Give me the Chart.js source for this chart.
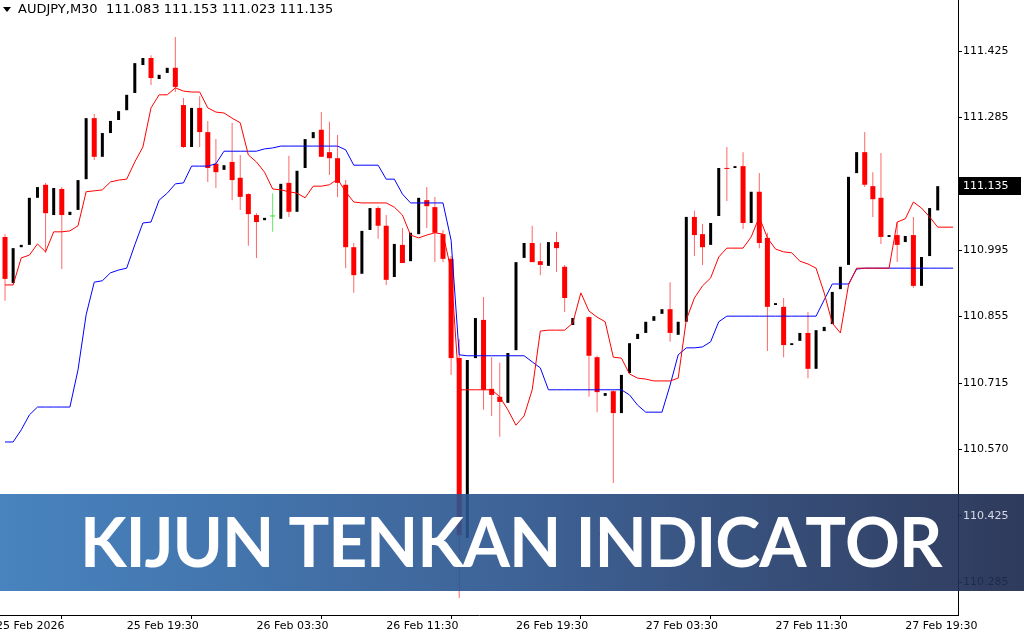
<!DOCTYPE html>
<html>
<head>
<meta charset="utf-8">
<script src="https://cdn.jsdelivr.net/npm/chart.js@4.4.1/dist/chart.umd.min.js"></script>
<style>
  html, body { margin: 0; padding: 0; background: #fff; }
  #wrap { width: 1024px; height: 640px; position: relative; overflow: hidden; }
</style>
</head>
<body>
<div id="wrap"><canvas id="chart-main" width="1024" height="640"></canvas></div>
<script>
// AUDJPY M30 with Tenkan (red) / Kijun (blue)
const symbol = 'AUDJPY,M30';
const lastQuote = ['111.083', '111.153', '111.023', '111.135'];
const lastPrice = 111.135;
const bannerTitle = 'KIJUN TENKAN INDICATOR';

// bar index each time label belongs to
const timeLabelBars = [-1.1, 15, 31, 47, 63, 79, 95, 111];
const timeLabels = ['25 Feb 2026', '25 Feb 19:30', '26 Feb 03:30', '26 Feb 11:30',
    '26 Feb 19:30', '27 Feb 03:30', '27 Feb 11:30', '27 Feb 19:30'];

const priceTicks = [111.425, 111.2825, 111.14, 110.9975, 110.855, 110.7125, 110.57, 110.4275, 110.285];
const priceTickLabels = ['111.425', '111.285', '111.140', '110.995', '110.855', '110.715', '110.570', '110.425', '110.285'];

// index 71 has no visible candle
const opens = [
    111.026, 110.927, 111.004, 111.009, 111.110, 111.138, 111.073, 111.129, 111.073, 111.084,
    111.150, 111.281, 111.198, 111.249, 111.277, 111.298, 111.335, 111.395, 111.410, 111.365,
    111.378, 111.389, 111.309, 111.219, 111.303, 111.251, 111.183, 111.170, 111.187, 111.153,
    111.118, 111.073, 111.062, 111.070, 111.065, 111.142, 111.080, 111.174, 111.238, 111.256,
    111.208, 111.195, 111.138, 111.004, 110.947, 111.041, 111.088, 111.050, 110.940, 111.009,
    110.974, 111.032, 111.105, 111.090, 111.032, 110.979, 110.766, 110.380, 110.766, 110.848,
    110.700, 110.683, 110.670, 110.783, 110.981, 111.013, 110.974, 110.964, 111.015, 110.962,
    110.837, null, 110.854, 110.768, 110.685, 110.695, 110.648, 110.734, 110.807, 110.820,
    110.846, 110.861, 110.871, 110.816, 110.844, 111.069, 111.032, 111.009, 111.071, 111.174,
    111.174, 111.178, 111.056, 111.123, 111.024, 110.880, 110.876, 110.794, 110.803, 110.820,
    110.743, 110.824, 110.839, 110.914, 110.966, 111.163, 111.208, 111.135, 111.110, 111.026,
    111.030, 111.015, 111.030, 110.921, 110.985, 111.083
];
const highs = [
    111.032, 111.002, 111.009, 111.110, 111.133, 111.142, 111.131, 111.133, 111.080, 111.148,
    111.281, 111.290, 111.249, 111.275, 111.296, 111.331, 111.399, 111.410, 111.416, 111.374,
    111.389, 111.455, 111.324, 111.303, 111.328, 111.275, 111.236, 111.180, 111.271, 111.202,
    111.120, 111.077, 111.067, 111.120, 111.140, 111.200, 111.168, 111.236, 111.251, 111.294,
    111.273, 111.245, 111.148, 111.013, 111.039, 111.088, 111.092, 111.073, 111.011, 111.045,
    111.035, 111.110, 111.133, 111.112, 111.041, 110.985, 110.807, 110.762, 110.852, 110.897,
    110.768, 110.756, 110.777, 110.972, 111.013, 111.050, 111.013, 111.015, 111.037, 110.966,
    110.852, null, 110.856, 110.771, 110.691, 110.698, 110.730, 110.798, 110.818, 110.844,
    110.856, 110.871, 110.929, 110.844, 111.069, 111.082, 111.054, 111.056, 111.174, 111.219,
    111.178, 111.208, 111.123, 111.163, 111.035, 110.884, 110.895, 110.798, 110.820, 110.865,
    110.826, 110.833, 110.908, 110.962, 111.155, 111.208, 111.251, 111.165, 111.206, 111.030,
    111.058, 111.028, 111.069, 110.983, 111.088, 111.153
];
const lows = [
    110.889, 110.927, 111.004, 111.009, 111.110, 110.992, 111.073, 110.957, 111.073, 111.084,
    111.150, 111.191, 111.198, 111.249, 111.277, 111.298, 111.335, 111.395, 111.352, 111.365,
    111.378, 111.337, 111.217, 111.219, 111.219, 111.144, 111.131, 111.170, 111.105, 111.084,
    111.007, 110.981, 111.062, 111.037, 111.065, 111.069, 111.080, 111.174, 111.238, 111.198,
    111.159, 111.112, 110.959, 110.906, 110.947, 111.041, 111.022, 110.923, 110.940, 110.970,
    110.974, 111.032, 111.045, 110.972, 110.972, 110.730, 110.251, 110.380, 110.766, 110.655,
    110.642, 110.597, 110.670, 110.783, 110.981, 110.972, 110.944, 110.964, 110.951, 110.865,
    110.837, null, 110.683, 110.650, 110.685, 110.498, 110.648, 110.734, 110.807, 110.820,
    110.846, 110.861, 110.801, 110.816, 110.844, 110.985, 110.966, 111.009, 111.071, 111.103,
    111.174, 111.043, 111.056, 111.002, 110.781, 110.880, 110.768, 110.794, 110.803, 110.723,
    110.743, 110.824, 110.839, 110.914, 110.966, 111.163, 111.133, 111.069, 111.011, 111.026,
    110.972, 111.015, 110.917, 110.921, 110.985, 111.023
];
const closes = [
    110.936, 111.002, 111.009, 111.110, 111.133, 111.077, 111.131, 111.073, 111.080, 111.148,
    111.281, 111.198, 111.249, 111.275, 111.296, 111.331, 111.399, 111.410, 111.367, 111.374,
    111.389, 111.348, 111.219, 111.303, 111.251, 111.174, 111.165, 111.180, 111.148, 111.112,
    111.075, 111.058, 111.067, 111.070, 111.140, 111.080, 111.168, 111.236, 111.251, 111.198,
    111.195, 111.142, 111.004, 110.944, 111.039, 111.088, 111.050, 110.934, 111.011, 110.970,
    111.035, 111.110, 111.092, 111.035, 110.979, 110.766, 110.386, 110.762, 110.852, 110.698,
    110.687, 110.672, 110.777, 110.972, 111.013, 110.972, 110.966, 111.015, 111.002, 110.895,
    110.852, null, 110.771, 110.693, 110.691, 110.648, 110.730, 110.798, 110.818, 110.844,
    110.856, 110.871, 110.820, 110.844, 111.069, 111.030, 111.004, 111.056, 111.174, 111.172,
    111.178, 111.056, 111.123, 111.013, 110.876, 110.884, 110.794, 110.798, 110.820, 110.743,
    110.826, 110.833, 110.908, 110.962, 111.155, 111.208, 111.138, 111.107, 111.026, 111.030,
    111.009, 111.028, 110.921, 110.983, 111.088, 111.135
];

const tenkan = [
    110.923, 110.923, 110.981, 110.987, 111.011, 110.994, 111.037, 111.037, 111.039, 111.050,
    111.123, 111.125, 111.127, 111.144, 111.148, 111.150, 111.187, 111.219, 111.303, 111.331,
    111.331, 111.346, 111.339, 111.337, 111.337, 111.303, 111.294, 111.292, 111.281, 111.271,
    111.202, 111.187, 111.165, 111.129, 111.127, 111.123, 111.120, 111.110, 111.135, 111.135,
    111.138, 111.150, 111.123, 111.101, 111.099, 111.099, 111.099, 111.099, 111.090, 111.073,
    111.030, 111.024, 111.030, 111.035, 111.032, 110.955, 110.698, 110.698, 110.698, 110.698,
    110.698, 110.683, 110.655, 110.622, 110.642, 110.698, 110.824, 110.826, 110.826, 110.826,
    110.841, 110.906, 110.867, 110.854, 110.844, 110.768, 110.766, 110.732, 110.723, 110.721,
    110.717, 110.717, 110.717, 110.723, 110.848, 110.895, 110.921, 110.938, 110.983, 111.002,
    111.002, 111.002, 111.026, 111.069, 111.024, 111.000, 110.994, 110.992, 110.974, 110.968,
    110.959, 110.906, 110.841, 110.820, 110.923, 110.959, 110.959, 110.959, 110.959, 110.959,
    111.058, 111.065, 111.101, 111.088, 111.069, 111.047
];
const kijun = [
    110.586, 110.586, 110.612, 110.644, 110.661, 110.661, 110.661, 110.661, 110.661, 110.741,
    110.859, 110.929, 110.932, 110.949, 110.955, 110.959, 111.009, 111.056, 111.058, 111.105,
    111.120, 111.140, 111.142, 111.178, 111.178, 111.178, 111.183, 111.210, 111.210, 111.210,
    111.210, 111.210, 111.215, 111.217, 111.221, 111.221, 111.221, 111.221, 111.221, 111.221,
    111.221, 111.221, 111.213, 111.180, 111.180, 111.180, 111.180, 111.150, 111.150, 111.118,
    111.099, 111.099, 111.099, 111.099, 111.099, 111.019, 110.773, 110.771, 110.771, 110.771,
    110.771, 110.771, 110.771, 110.771, 110.771, 110.758, 110.745, 110.698, 110.698, 110.698,
    110.698, 110.698, 110.698, 110.698, 110.698, 110.698, 110.698, 110.687, 110.665, 110.650,
    110.650, 110.650, 110.708, 110.773, 110.788, 110.788, 110.790, 110.801, 110.844, 110.856,
    110.856, 110.856, 110.856, 110.856, 110.856, 110.856, 110.856, 110.856, 110.856, 110.856,
    110.856, 110.891, 110.925, 110.925, 110.925, 110.957, 110.959, 110.959, 110.959, 110.959,
    110.959, 110.959, 110.959, 110.959, 110.959, 110.959
];
// indicator lines run a little past the last candle
const lineEndBar = 116.9;

const bars = opens.map((o, i) => ({ i, o, h: highs[i], l: lows[i], c: closes[i] }))
    .filter(b => b.o !== null);
const bear = bars.filter(b => b.c < b.o);
const bull = bars.filter(b => b.c > b.o);
const flat = bars.filter(b => b.c === b.o);

const linePoints = (arr) => {
    const pts = arr.map((v, i) => ({ x: i, y: v }));
    pts.push({ x: lineEndBar, y: arr[arr.length - 1] });
    return pts;
};

const barBase = {
    type: 'bar',
    grouped: false,
    borderWidth: 0,
    inflateAmount: 0,
    minBarLength: 1
};
const lineBase = {
    type: 'line',
    borderWidth: 1,
    pointRadius: 0,
    tension: 0,
    fill: false
};

const datasets = [
    { ...lineBase, label: 'Tenkan', order: 0, borderColor: '#ff0000', data: linePoints(tenkan) },
    { ...lineBase, label: 'Kijun', order: 1, borderColor: '#0000ff', data: linePoints(kijun) },
    { ...barBase, label: 'bear body', order: 3, barThickness: 5, backgroundColor: '#ff0000',
        data: bear.map(b => ({ x: b.i, y: [b.c, b.o] })) },
    { ...barBase, label: 'bull body', order: 3, barThickness: 3, backgroundColor: '#000000',
        data: bull.map(b => ({ x: b.i, y: [b.o, b.c] })) },
    { ...barBase, label: 'doji body', order: 3, barThickness: 5, backgroundColor: '#33dd33',
        data: flat.map(b => ({ x: b.i, y: [b.o, b.c] })) },
    { ...barBase, label: 'bear wick', order: 4, barThickness: 1, backgroundColor: 'rgba(255,0,0,0.6)',
        data: bear.map(b => ({ x: b.i, y: [b.l, b.h] })) },
    { ...barBase, label: 'doji wick', order: 4, barThickness: 1, backgroundColor: 'rgba(0,210,0,0.6)',
        data: flat.map(b => ({ x: b.i, y: [b.l, b.h] })) }
];

const axisFont = { family: 'DejaVu Sans', size: 11 };

const overlay = {
    id: 'overlay',
    afterDraw(chart) {
        const ctx = chart.ctx;
        const yScale = chart.scales.y;
        ctx.save();

        // header
        ctx.fillStyle = '#000';
        ctx.textBaseline = 'middle';
        ctx.font = '13px "DejaVu Sans"';
        ctx.beginPath();
        ctx.moveTo(3, 7);
        ctx.lineTo(11, 7);
        ctx.lineTo(7, 12);
        ctx.closePath();
        ctx.fill();
        ctx.fillText(symbol + '  ' + lastQuote.join(' '), 18, 10);

        // last price marker
        const py = Math.round(yScale.getPixelForValue(lastPrice));
        ctx.fillStyle = '#000';
        ctx.fillRect(959, py - 9, 62, 18);
        ctx.fillStyle = '#fff';
        ctx.font = '11px "DejaVu Sans"';
        ctx.fillText(lastQuote[3], 963, py);

        // banner
        const top = 494, bottom = 591;
        const g = ctx.createLinearGradient(0, 0, 1024, 0);
        g.addColorStop(0, 'rgba(52,118,184,0.9)');
        g.addColorStop(0.5, 'rgba(41,82,140,0.9)');
        g.addColorStop(1, 'rgba(30,42,78,0.92)');
        ctx.fillStyle = g;
        ctx.fillRect(0, top, 1024, bottom - top);

        // price label sitting on the banner reads light
        ctx.fillStyle = 'rgba(235,238,245,0.9)';
        ctx.font = '11px "DejaVu Sans"';
        ctx.textBaseline = 'middle';
        ctx.fillText(priceTickLabels[7], 963, yScale.getPixelForValue(priceTicks[7]));

        ctx.fillStyle = '#ffffff';
        ctx.font = 'bold 68px Lato';
        ctx.textBaseline = 'alphabetic';
        const chars = bannerTitle.split('');
        const natural = ctx.measureText(bannerTitle).width;
        const target = 856;
        const extra = (target - natural) / (chars.length - 1);
        let x = 80;
        chars.forEach(ch => {
            ctx.fillText(ch, x, 567);
            x += ctx.measureText(ch).width + extra;
        });
        ctx.restore();
    }
};

const chart = new Chart(document.getElementById('chart-main'), {
    type: 'bar',
    data: { datasets },
    options: {
        responsive: false,
        animation: false,
        devicePixelRatio: 1,
        events: [],
        layout: { padding: 0 },
        plugins: { legend: { display: false }, tooltip: { enabled: false } },
        scales: {
            x: {
                type: 'linear',
                min: -0.62,
                max: 117.5,
                offset: false,
                grid: { drawOnChartArea: false, drawTicks: true, tickLength: 4, color: '#000' },
                border: { display: true, color: '#000' },
                ticks: {
                    align: 'start',
                    maxRotation: 0,
                    autoSkip: false,
                    padding: 1,
                    color: '#000',
                    font: axisFont,
                    callback: (v, idx) => timeLabels[idx]
                },
                afterBuildTicks: s => { s.ticks = timeLabelBars.map(v => ({ value: v })); },
                afterFit: s => { s.height = 25; s.paddingLeft = 0; s.paddingRight = 0; }
            },
            y: {
                type: 'linear',
                position: 'right',
                min: 110.2147,
                max: 111.5345,
                grid: { drawOnChartArea: false, drawTicks: true, tickLength: 4, color: '#000' },
                border: { display: true, color: '#000' },
                ticks: {
                    padding: 1,
                    color: '#000',
                    font: axisFont,
                    callback: (v, idx) => priceTickLabels[idx]
                },
                afterBuildTicks: s => { s.ticks = priceTicks.map(v => ({ value: v })); },
                afterFit: s => { s.width = 66; s.paddingTop = 0; s.paddingBottom = 0; }
            }
        }
    },
    plugins: [overlay]
});
</script>
</body>
</html>
